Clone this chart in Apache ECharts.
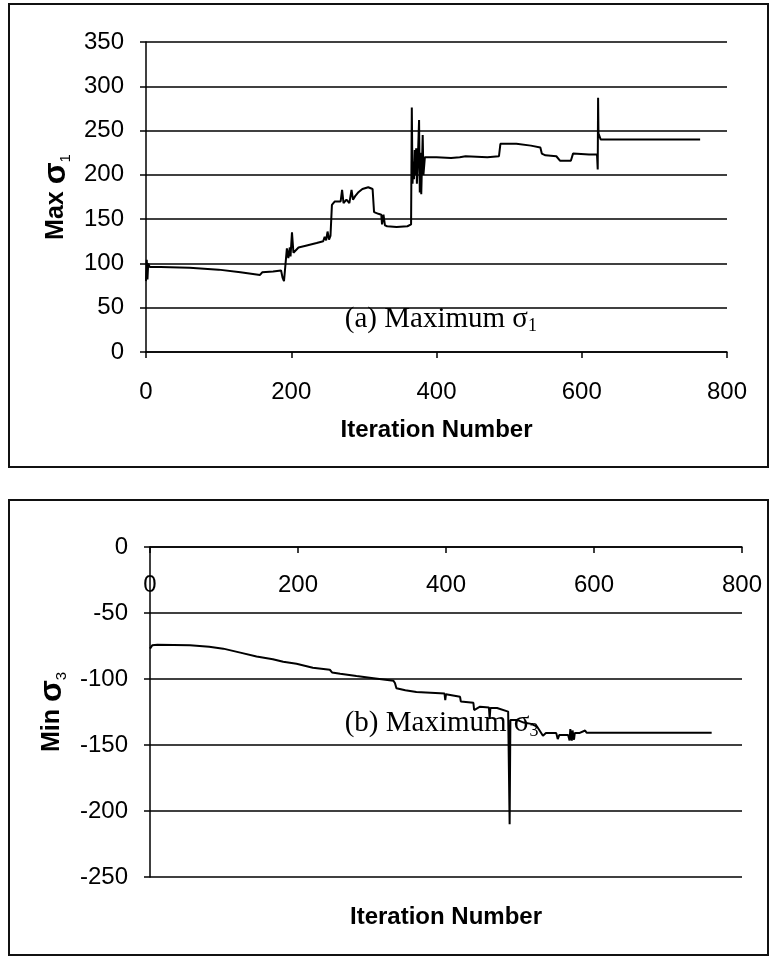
<!DOCTYPE html>
<html>
<head>
<meta charset="utf-8">
<script src="https://cdn.jsdelivr.net/npm/echarts@6/dist/echarts.min.js"></script>
<style>
  html, body { margin: 0; padding: 0; background: #fff; }
  #chart { width: 776px; height: 959px; }
</style>
</head>
<body>
<div id="chart"></div>
<script>
// Axis ticks
const xTicks = [0, 200, 400, 600, 800];
const yTicksTop = [0, 50, 100, 150, 200, 250, 300, 350];
const yTicksBottom = [-250, -200, -150, -100, -50, 0];

// (a) Maximum principal stress per iteration
const iterA = [0, 1, 2, 3, 5, 20, 60, 100, 130, 157, 160, 175, 186, 188, 190, 192, 194, 196, 198, 199,
  201, 203, 210, 220, 235, 244, 246, 248, 250, 252, 254, 256, 260, 268, 270, 272, 276, 280, 283, 285,
  288, 292, 298, 306, 312, 314, 320, 324, 325, 327, 329, 332, 345, 360, 365,
  366, 367, 368, 369, 370, 371, 372, 373, 374, 376, 377, 378, 379, 381, 382, 384,
  400, 420, 432, 434, 440, 470, 486, 488, 490, 510, 530, 543, 545, 550, 565, 570, 585, 588, 610,
  621, 622, 622.5, 623, 626, 763];
const sigma1 = [80, 104, 82, 100, 96, 96, 95, 93, 90, 87, 90, 91, 92, 84, 80, 82, 117, 106, 118, 108,
  135, 112, 118, 120, 123, 125, 130, 126, 136, 127, 131, 166, 170, 170, 183, 168, 172, 168, 183, 172,
  176, 180, 184, 186, 184, 158, 156, 155, 144, 155, 143, 142, 141, 142, 144,
  276, 190, 215, 195, 228, 200, 230, 190, 210, 262, 180, 225, 178, 245, 200, 220,
  220, 219, 220, 222, 221, 220, 221, 235, 236, 235, 233, 231, 224, 222, 221, 216, 216, 224, 223,
  223, 206, 287, 247, 240, 240];

// (b) Minimum principal stress per iteration
const iterB = [0, 3, 10, 54, 80, 99, 122, 144, 166, 180, 198, 220, 243, 246, 248, 257, 279, 302, 329, 331,
  333, 345, 360, 392, 398, 399, 400, 401, 419, 420, 437, 438, 446, 458, 459, 460, 469, 484, 485, 486,
  487, 496, 505, 515, 523, 531, 535, 549, 551, 553, 565, 567, 568, 570, 571, 573, 574, 580, 588, 589,
  590, 759];
const sigma3 = [-77, -74.5, -74, -74.5, -75.5, -77, -80, -83, -85, -87, -88.5, -91.5, -93, -95, -93.5, -96, -97.7, -99.4, -101.4, -103,
  -107, -108.5, -109.8, -110.8, -111, -116, -111.5, -113, -113.5, -117, -118, -123.5, -121, -121.5, -130, -122, -122, -124.7, -125, -210,
  -131, -131, -133, -134, -136, -143, -141, -141, -145.5, -142.5, -142.5, -146.5, -138, -146.7, -139, -146, -141, -141, -139, -137.5,
  -140.7, -140.7];

const sansFont = '"Liberation Sans", Arial, sans-serif';
const serifFont = '"Liberation Serif", "Times New Roman", serif';
const ink = '#000';
const tickFont = 24;

function pairs(xs, ys) { return xs.map((x, i) => [x, ys[i]]); }

const axisLineStyle = { color: ink, width: 1.5 };

function valueAxisX(gridIndex, extra) {
  return Object.assign({
    type: 'value', gridIndex: gridIndex,
    min: xTicks[0], max: xTicks[xTicks.length - 1], interval: xTicks[1] - xTicks[0],
    axisLine: { show: true, onZero: false, lineStyle: axisLineStyle },
    axisTick: { show: true, length: 6, lineStyle: axisLineStyle },
    axisLabel: { color: ink, fontFamily: sansFont, fontSize: tickFont, margin: 28 },
    splitLine: { show: false }
  }, extra);
}

function valueAxisY(gridIndex, ticks, name, gap) {
  return {
    type: 'value', gridIndex: gridIndex,
    min: ticks[0], max: ticks[ticks.length - 1], interval: ticks[1] - ticks[0],
    axisLine: { show: true, onZero: false, lineStyle: axisLineStyle },
    axisTick: { show: true, length: 6, lineStyle: axisLineStyle },
    axisLabel: { color: ink, fontFamily: sansFont, fontSize: tickFont, margin: 22 },
    splitLine: { show: true, lineStyle: { color: ink, width: 1.5 } },
    name: name,
    nameLocation: 'middle',
    nameRotate: 90,
    nameGap: gap,
    nameTextStyle: {
      rich: {
        m: { fontFamily: sansFont, fontWeight: 'bold', fontSize: 25, color: ink, lineHeight: 34 },
        g: { fontFamily: sansFont, fontWeight: 'bold', fontSize: 32, color: ink, lineHeight: 34 },
        s: { fontFamily: sansFont, fontSize: 15, color: ink, lineHeight: 15, verticalAlign: 'bottom' }
      }
    }
  };
}

const titleStyle = { fontFamily: sansFont, fontWeight: 'bold', fontSize: 24, color: ink };

const option = {
  animation: false,
  backgroundColor: '#fff',
  grid: [
    { left: 146, top: 42, width: 581, height: 310 },
    { left: 150, top: 547, width: 592, height: 330 }
  ],
  xAxis: [
    valueAxisX(0, { name: 'Iteration Number', nameLocation: 'middle', nameGap: 66, nameTextStyle: titleStyle }),
    // lower panel: axis sits on the zero line at the top, labels hang below it
    valueAxisX(1, {
      position: 'top',
      axisTick: { show: true, inside: true, length: 6, lineStyle: axisLineStyle },
      axisLabel: { color: ink, fontFamily: sansFont, fontSize: tickFont, inside: true, margin: 26 }
    }),
    {
      type: 'value', gridIndex: 1, position: 'bottom',
      min: xTicks[0], max: xTicks[xTicks.length - 1],
      axisLine: { show: false, onZero: false }, axisTick: { show: false },
      axisLabel: { show: false }, splitLine: { show: false },
      name: 'Iteration Number', nameLocation: 'middle', nameGap: 28, nameTextStyle: titleStyle
    }
  ],
  yAxis: [
    valueAxisY(0, yTicksTop, '{m|Max }{g|σ}{s|1}', 58),
    valueAxisY(1, yTicksBottom, '{m|Min }{g|σ}{s|3}', 61)
  ],
  series: [
    {
      type: 'line', xAxisIndex: 0, yAxisIndex: 0,
      data: pairs(iterA, sigma1),
      showSymbol: false, symbol: 'none',
      lineStyle: { color: ink, width: 2 }
    },
    {
      type: 'line', xAxisIndex: 1, yAxisIndex: 1,
      data: pairs(iterB, sigma3),
      showSymbol: false, symbol: 'none',
      lineStyle: { color: ink, width: 2 }
    }
  ],
  graphic: [
    { id: 'boxA', type: 'rect', shape: { x: 9, y: 4, width: 759, height: 463 }, style: { fill: null, stroke: '#111', lineWidth: 2 }, silent: true },
    { id: 'boxB', type: 'rect', shape: { x: 9, y: 500, width: 759, height: 455 }, style: { fill: null, stroke: '#111', lineWidth: 2 }, silent: true }
  ]
};

const chart = echarts.init(document.getElementById('chart'), null, { renderer: 'canvas' });
chart.setOption(option);

// Panel captions anchored in data space
const captions = [
  { id: 'capA', at: [406, 37], axes: { xAxisIndex: 0, yAxisIndex: 0 }, sub: '1', tag: '(a)' },
  { id: 'capB', at: [394, -134], axes: { xAxisIndex: 1, yAxisIndex: 1 }, sub: '3', tag: '(b)' }
];
const captionRich = {
  t: { fontFamily: serifFont, fontSize: 29, color: ink, lineHeight: 32 },
  s: { fontFamily: serifFont, fontSize: 18, color: ink, lineHeight: 18, verticalAlign: 'bottom' }
};
chart.setOption({
  graphic: captions.map(c => {
    const p = chart.convertToPixel(c.axes, c.at);
    return {
      id: c.id, type: 'text', x: p[0], y: p[1], silent: true,
      style: {
        text: '{t|' + c.tag + ' Maximum σ}{s|' + c.sub + '}',
        rich: captionRich,
        align: 'center', verticalAlign: 'middle'
      }
    };
  })
});
</script>
</body>
</html>
